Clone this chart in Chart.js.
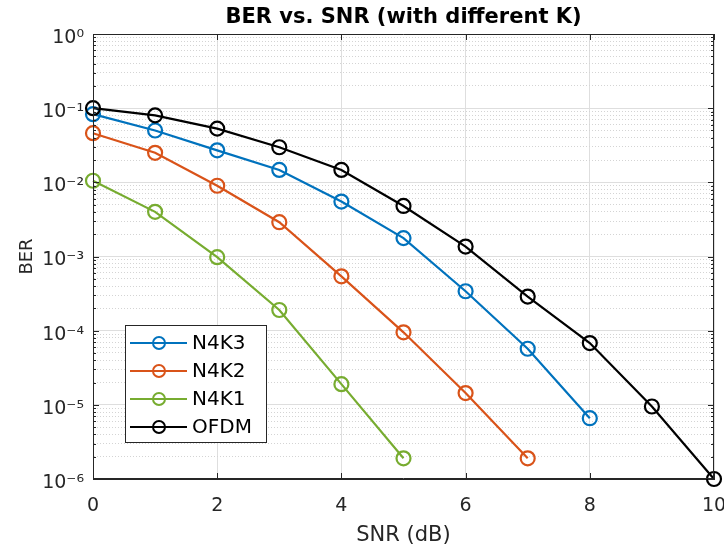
<!DOCTYPE html>
<html>
<head>
<meta charset="utf-8">
<script src="https://cdn.jsdelivr.net/npm/chart.js@4/dist/chart.umd.min.js"></script>
<style>
html,body{margin:0;padding:0;background:#fff;}
#wrap{width:724px;height:546px;}
</style>
</head>
<body>
<div id="wrap"><canvas id="c" width="724" height="546"></canvas></div>
<script>
const snr = [0, 1, 2, 3, 4, 5, 6, 7, 8, 9, 10];
const n4k3 = [0.083, 0.050, 0.027, 0.0147, 0.0055, 0.00177, 3.4e-4, 5.7e-5, 6.6e-6];
const n4k2 = [0.046, 0.025, 0.009, 0.0029, 5.4e-4, 9.5e-5, 1.44e-5, 1.9e-6];
const n4k1 = [0.0105, 0.004, 9.8e-4, 1.9e-4, 1.9e-5, 1.9e-6];
const ofdm = [0.1, 0.08, 0.053, 0.0297, 0.0147, 0.0048, 1.36e-3, 2.88e-4, 6.8e-5, 9.5e-6, 1e-6];
const seriesNames = ['N4K3', 'N4K2', 'N4K1', 'OFDM'];
const seriesColors = ['#0072BD', '#D95319', '#77AC30', '#000000'];
const xTicks = [0, 2, 4, 6, 8, 10];
const yDecades = [-6, -5, -4, -3, -2, -1, 0];
const supMap = {'-':'\u207B','0':'\u2070','1':'\u00B9','2':'\u00B2','3':'\u00B3','4':'\u2074','5':'\u2075','6':'\u2076','7':'\u2077','8':'\u2078','9':'\u2079'};
const supText = s => String(s).split('').map(c => supMap[c]).join('');
const FONT = '"DejaVu Sans", "Liberation Sans", Arial, sans-serif';

const seriesData = [n4k3, n4k2, n4k1, ofdm];
const datasets = seriesData.map((arr, i) => ({
  label: seriesNames[i],
  data: arr.map((v, j) => ({x: snr[j], y: v})),
  borderColor: seriesColors[i],
  backgroundColor: 'rgba(0,0,0,0)',
  pointBorderColor: seriesColors[i],
  pointBackgroundColor: 'rgba(0,0,0,0)',
  borderWidth: 2.2,
  pointRadius: 7,
  pointBorderWidth: 2.2,
  pointHoverRadius: 7,
  tension: 0,
  clip: false,
  order: seriesData.length - i
}));

const isMajorLog = v => Math.abs(Math.log10(v) - Math.round(Math.log10(v))) < 1e-9;
const AX = '#262626';

const framePlugin = {
  id: 'frame',
  afterDatasetsDraw(chart) {
    const {ctx, chartArea: a, scales} = chart;
    ctx.save();
    ctx.strokeStyle = AX;
    ctx.lineWidth = 1;
    ctx.beginPath();
    ctx.moveTo(a.left + 0.5, a.top + 0.5);
    ctx.lineTo(a.right - 0.5, a.top + 0.5);
    ctx.lineTo(a.right - 0.5, a.bottom - 0.5);
    ctx.lineTo(a.left + 0.5, a.bottom - 0.5);
    ctx.closePath();
    ctx.stroke();
    ctx.beginPath();
    xTicks.forEach(v => {
      const px = Math.round(scales.x.getPixelForValue(v)) + 0.5;
      ctx.moveTo(px, a.bottom); ctx.lineTo(px, a.bottom - 6);
      ctx.moveTo(px, a.top); ctx.lineTo(px, a.top + 6);
    });
    scales.y.ticks.forEach(t => {
      const py = Math.round(scales.y.getPixelForValue(t.value)) + 0.5;
      const len = isMajorLog(t.value) ? 6 : 3;
      ctx.moveTo(a.left, py); ctx.lineTo(a.left + len, py);
      ctx.moveTo(a.right, py); ctx.lineTo(a.right - len, py);
    });
    ctx.stroke();
    ctx.restore();
  },
  afterDraw(chart) {
    const {ctx} = chart;
    const bx = 125, by = 325, bw = 141, bh = 117;
    ctx.save();
    ctx.fillStyle = '#ffffff';
    ctx.fillRect(bx, by, bw, bh);
    ctx.strokeStyle = AX;
    ctx.lineWidth = 1;
    ctx.strokeRect(bx + 0.5, by + 0.5, bw, bh);
    chart.data.datasets.forEach((ds, i) => {
      const cy = by + 18 + i * 28;
      ctx.strokeStyle = ds.borderColor;
      ctx.lineWidth = 2;
      ctx.beginPath();
      ctx.moveTo(bx + 5, cy); ctx.lineTo(bx + 62, cy);
      ctx.stroke();
      ctx.beginPath();
      ctx.arc(bx + 34, cy, 6, 0, Math.PI * 2);
      ctx.stroke();
      ctx.fillStyle = '#000000';
      ctx.font = '20px ' + FONT;
      ctx.textAlign = 'left';
      ctx.textBaseline = 'middle';
      ctx.fillText(ds.label, bx + 67, cy + 1);
    });
    ctx.restore();
  }
};

new Chart(document.getElementById('c'), {
  type: 'line',
  data: {datasets},
  options: {
    responsive: false,
    animation: false,
    devicePixelRatio: 1,
    layout: {padding: {left: 0, right: 10, top: 0, bottom: 0}},
    plugins: {
      legend: {display: false},
      tooltip: {enabled: false},
      title: {
        display: true,
        text: 'BER vs. SNR (with different K)',
        fullSize: false,
        color: '#000000',
        font: {family: FONT, size: 21, weight: 'bold', lineHeight: 1.2},
        padding: {top: 5, bottom: 3.8}
      }
    },
    scales: {
      x: {
        type: 'linear',
        min: 0, max: 10,
        afterBuildTicks(scale) { scale.ticks = xTicks.map(v => ({value: v})); },
        afterFit(scale) { scale.height = 67; scale.paddingRight = 0; scale.paddingLeft = 0; },
        ticks: {
          color: AX,
          font: {family: FONT, size: 19},
          padding: 16,
          maxRotation: 0,
          autoSkip: false
        },
        grid: {color: '#dedede', lineWidth: 1, drawTicks: false},
        border: {display: true, color: AX, width: 1},
        title: {
          display: true,
          text: 'SNR (dB)',
          color: AX,
          font: {family: FONT, size: 21, lineHeight: 1},
          padding: {top: 0, bottom: 0}
        }
      },
      y: {
        type: 'logarithmic',
        min: 1e-6, max: 1,
        afterBuildTicks(scale) {
          const t = [];
          yDecades.forEach(d => {
            for (let m = 1; m <= 9; m++) {
              if (d === 0 && m > 1) break;
              t.push({value: m * Math.pow(10, d)});
            }
          });
          scale.ticks = t;
        },
        afterFit(scale) { scale.width = 93; scale.paddingTop = 0; scale.paddingBottom = 0; },
        ticks: {
          color: AX,
          font: {family: FONT, size: 19},
          padding: 9,
          labelOffset: 4,
          autoSkip: false,
          callback(v) {
            if (!isMajorLog(v)) return '';
            return '10' + supText(Math.round(Math.log10(v)));
          }
        },
        grid: {
          drawTicks: false,
          lineWidth: 1,
          color: c => (c.tick && !isMajorLog(c.tick.value)) ? '#d4d4d4' : '#dedede'
        },
        border: {
          display: true, color: AX, width: 1,
          dash: c => (c.tick && !isMajorLog(c.tick.value)) ? [1, 2] : []
        },
        title: {
          display: true,
          text: 'BER',
          color: AX,
          font: {family: FONT, size: 18},
          padding: {top: 17, bottom: 0}
        }
      }
    }
  },
  plugins: [framePlugin]
});
</script>
</body>
</html>
